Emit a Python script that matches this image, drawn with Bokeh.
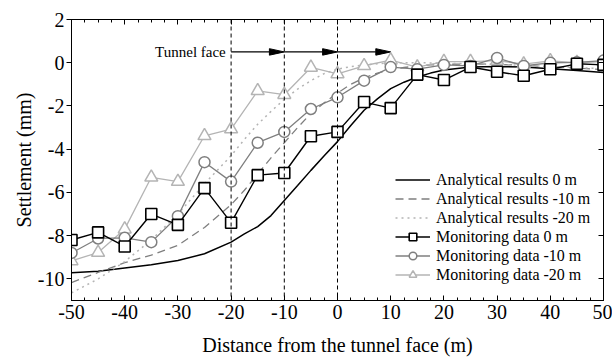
from bokeh.plotting import figure
from bokeh.models import (Range1d, LinearAxis, FixedTicker, CustomJSTickFormatter,
                          Span, Label, Legend, LegendItem)
from bokeh.embed import file_html
from bokeh.resources import INLINE

# Monitoring stations along the tunnel axis (m)
x_mon = [-50, -45, -40, -35, -30, -25, -20, -15, -10, -5, 0,
         5, 10, 15, 20, 25, 30, 35, 40, 45, 50]
mon_0 = [-8.2, -7.85, -8.5, -7.0, -7.5, -5.8, -7.4, -5.2, -5.1, -3.4, -3.2,
         -1.82, -2.1, -0.55, -0.8, -0.2, -0.42, -0.6, -0.3, -0.05, -0.1]
mon_10 = [-8.8, -8.13, -8.1, -8.3, -7.1, -4.6, -5.5, -3.7, -3.2, -2.14, -1.6,
          -0.83, -0.2, -0.3, -0.1, -0.15, 0.22, -0.15, 0.0, 0.02, 0.1]
mon_20 = [-9.17, -8.78, -7.7, -5.3, -5.5, -3.38, -3.07, -1.3, -1.48, -0.22, -0.52,
          -0.14, 0.12, -0.2, 0.05, 0.05, 0.1, -0.06, 0.09, 0.0, 0.05]

# Analytical settlement curves
x_ana = [-50, -45, -40, -35, -30, -25, -20, -17.5, -15, -12.5, -10, -7.5, -5, -2.5, 0,
         2.5, 5, 7.5, 10, 12.5, 15, 17.5, 20, 25, 30, 35, 40, 45, 50]
ana_0 = [-9.72, -9.65, -9.5, -9.35, -9.15, -8.84, -8.3, -7.92, -7.58, -7.07, -6.37,
         -5.68, -4.98, -4.3, -3.65, -2.9, -2.2, -1.67, -1.2, -0.9, -0.66, -0.48,
         -0.34, -0.2, -0.17, -0.2, -0.28, -0.36, -0.45]
ana_10 = [-10.17, -9.7, -9.25, -8.9, -8.45, -7.62, -6.57, -5.9, -5.15, -4.4, -3.7,
          -3.0, -2.35, -1.85, -1.4, -1.0, -0.7, -0.48, -0.32, -0.22, -0.15, -0.1,
          -0.08, -0.05, -0.08, -0.12, -0.18, -0.25, -0.32]
ana_20 = [-10.65, -10.0, -9.2, -8.2, -7.0, -5.6, -4.3, -3.55, -2.85, -2.25, -1.7,
          -1.22, -0.83, -0.5, -0.3, -0.18, -0.1, -0.05, 0.0, 0.0, 0.0, -0.01,
          -0.02, -0.05, -0.08, -0.12, -0.17, -0.22, -0.28]

# Successive tunnel face positions (m)
face_x = [-20, -10, 0]
face_next = [-10, 0, 10]
arrow_y = 0.5

x_ticks = [-50, -40, -30, -20, -10, 0, 10, 20, 30, 40, 50]
x_minor = [-50 + 2.5 * i for i in range(41)]
y_ticks = [-10, -8, -6, -4, -2, 0, 2]

FONT = "Liberation Serif"
GRAY = "#7f7f7f"
LIGHT = "#b4b4b4"

# plain ASCII hyphen for negative tick values
plain = CustomJSTickFormatter(code="return String(tick)")
blank = CustomJSTickFormatter(code="return ''")

p = figure(width=612, height=362, x_range=Range1d(-50, 50), y_range=Range1d(-11, 2),
           output_backend="svg", toolbar_location=None,
           min_border_left=71, min_border_right=9, min_border_top=19, min_border_bottom=62)
p.grid.visible = False
p.outline_line_color = "black"
p.outline_line_width = 1
p.background_fill_color = "white"
p.border_fill_color = "white"

xa = p.xaxis[0]
xa.ticker = FixedTicker(ticks=x_ticks, minor_ticks=x_minor)
xa.formatter = plain
xa.major_tick_in = 5
xa.major_tick_out = 0
xa.minor_tick_in = 3
xa.minor_tick_out = 0
xa.major_label_text_font = FONT
xa.major_label_text_font_size = "20px"
xa.major_label_text_color = "black"
xa.major_label_standoff = 4
xa.axis_label = "Distance from the tunnel face (m)"
xa.axis_label_text_font = FONT
xa.axis_label_text_font_size = "20px"
xa.axis_label_text_font_style = "normal"
xa.axis_label_text_color = "black"
xa.axis_label_standoff = 12

ya = p.yaxis[0]
ya.ticker = FixedTicker(ticks=y_ticks, minor_ticks=[])
ya.formatter = plain
ya.major_tick_in = 0
ya.major_tick_out = 5
ya.major_label_text_font = FONT
ya.major_label_text_font_size = "20px"
ya.major_label_text_color = "black"
ya.major_label_standoff = 2
ya.axis_label = "Settlement (mm)"
ya.axis_label_text_font = FONT
ya.axis_label_text_font_size = "20px"
ya.axis_label_text_font_style = "normal"
ya.axis_label_text_color = "black"
ya.axis_label_standoff = 0

ra = LinearAxis(ticker=FixedTicker(ticks=y_ticks, minor_ticks=[]), formatter=blank,
                major_tick_in=5, major_tick_out=0, minor_tick_in=0, minor_tick_out=0,
                major_label_standoff=0, major_label_text_font_size="1px")
ta = LinearAxis(ticker=FixedTicker(ticks=x_ticks, minor_ticks=x_minor), formatter=blank,
                major_tick_in=5, major_tick_out=0, minor_tick_in=3, minor_tick_out=0,
                major_label_standoff=0, major_label_text_font_size="1px")
p.add_layout(ra, "right")
p.add_layout(ta, "above")

# Tunnel face positions
for fx in face_x:
    p.add_layout(Span(location=fx, dimension="height", line_color="black",
                      line_width=1, line_dash="4 3"))

# Face advance arrows
head_len = 2.8
head_half = 0.15
p.segment(x0=face_x, y0=[arrow_y] * 3, x1=[v - head_len for v in face_next],
          y1=[arrow_y] * 3, line_color="black", line_width=1.2)
p.patches(xs=[[v - head_len, v, v - head_len] for v in face_next],
          ys=[[arrow_y - head_half, arrow_y, arrow_y + head_half] for _ in face_next],
          fill_color="black", line_color="black", line_width=1)
p.add_layout(Label(x=-21, y=arrow_y, text="Tunnel face", text_align="right",
                   text_baseline="middle", text_font=FONT, text_font_size="15px",
                   text_color="black"))

# Analytical curves
r_a0 = p.line(x_ana, ana_0, line_color="black", line_width=1.5)
r_a10 = p.line(x_ana, ana_10, line_color=GRAY, line_width=1.3, line_dash="8 5")
r_a20 = p.line(x_ana, ana_20, line_color=LIGHT, line_width=1.5, line_dash="2 4")

# Monitoring data
r_l20 = p.line(x_mon, mon_20, line_color=LIGHT, line_width=1.3)
r_m20 = p.scatter(x_mon, mon_20, marker="triangle", size=13, fill_color="white",
                  line_color=LIGHT, line_width=1.5)
r_l10 = p.line(x_mon, mon_10, line_color=GRAY, line_width=1.3)
r_m10 = p.scatter(x_mon, mon_10, marker="circle", size=11, fill_color="white",
                  line_color=GRAY, line_width=1.5)
r_l0 = p.line(x_mon, mon_0, line_color="black", line_width=1.4)
r_m0 = p.scatter(x_mon, mon_0, marker="square", size=11, fill_color="white",
                 line_color="black", line_width=1.6)

legend = Legend(items=[
    LegendItem(label="Analytical results 0 m", renderers=[r_a0]),
    LegendItem(label="Analytical results -10 m", renderers=[r_a10]),
    LegendItem(label="Analytical results -20 m", renderers=[r_a20]),
    LegendItem(label="Monitoring data 0 m", renderers=[r_l0, r_m0]),
    LegendItem(label="Monitoring data -10 m", renderers=[r_l10, r_m10]),
    LegendItem(label="Monitoring data -20 m", renderers=[r_l20, r_m20]),
], location=(324, 16))
legend.glyph_width = 35
legend.glyph_height = 19
legend.label_height = 19
legend.spacing = 0
legend.padding = 0
legend.margin = 0
legend.label_standoff = 6
legend.border_line_color = None
legend.background_fill_alpha = 0
legend.label_text_font = FONT
legend.label_text_font_size = "16px"
legend.label_text_color = "black"
p.add_layout(legend)

open("out.html", "w").write(file_html(p, INLINE))
